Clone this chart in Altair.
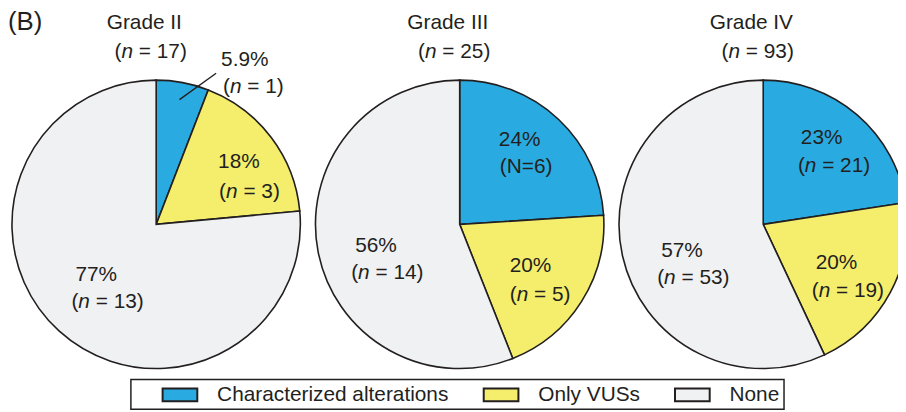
import math
import altair as alt
import pandas as pd

# ---------------- data ----------------
grades = ["Grade II", "Grade III", "Grade IV"]
grade_n = [17, 25, 93]
categories = ["Characterized alterations", "Only VUSs", "None"]
count_characterized = [1, 6, 21]
count_only_vus = [3, 5, 19]
count_none = [13, 14, 53]
pct_characterized = ["5.9%", "24%", "23%"]
pct_only_vus = ["18%", "20%", "20%"]
pct_none = ["77%", "56%", "57%"]
count_style_upper = [False, True, False]  # Grade III blue label written "(N=6)"

# ---------------- style ----------------
colors = ["#29ABE2", "#F4EE6C", "#F0F1F3"]
ink = "#231F20"
FONT = "Liberation Sans"
FS = 21
CX_RANGE = [149.5, 762]
CY = 216.5
R = 145.5
# label anchors (left end, baseline) relative to pie centre, line 1 and line 2
L1 = [[(65.5, -159.5), (62.5, -56.5), (-81.5, 57.5)],
      [(39.5, -79.5), (50.5, 48.5), (-105.5, 27.5)],
      [(38, -81.5), (53, 45.5), (-103, 32.5)]]
L2 = [[(67.5, -132.5), (63.5, -26.5), (-85.5, 84.5)],
      [(40.5, -51.5), (50.5, 77.5), (-109.5, 55.5)],
      [(35, -52.5), (49, 73.5), (-107, 60.5)]]
PAREN_W = 0.333 * FS
ITAL_N_W = 0.556 * FS
SPACE_W = 0.278 * FS

# ---------------- tables ----------------
arc_rows, lab_rows = [], []
for gi, g in enumerate(grades):
    counts = [count_characterized[gi], count_only_vus[gi], count_none[gi]]
    pcts = [pct_characterized[gi], pct_only_vus[gi], pct_none[gi]]
    tot = sum(counts)
    cum = 0
    for ci, c in enumerate(categories):
        start = cum / tot
        cum += counts[ci]
        end = cum / tot
        arc_rows.append({"grade": g, "category": c, "start": start, "end": end})
        dx1, dy1 = L1[gi][ci]
        dx2, dy2 = L2[gi][ci]
        upper = (ci == 0 and count_style_upper[gi])
        lab_rows.append({
            "grade": g,
            "t1": math.atan2(dx1, -dy1), "r1": math.hypot(dx1, dy1),
            "t2": math.atan2(dx2, -dy2), "r2": math.hypot(dx2, dy2),
            "pct": pcts[ci],
            "open": f"(N={counts[ci]})" if upper else "(",
            "ital": "" if upper else "n",
            "rest": "" if upper else f"= {counts[ci]})",
        })
arc_df = pd.DataFrame(arc_rows)
lab_df = pd.DataFrame(lab_rows)
title_df = pd.DataFrame({"grade": grades,
                         "rest": [f"= {n})" for n in grade_n]})

xscale = alt.Scale(type="point", domain=grades, range=CX_RANGE, padding=0)
X = alt.X("grade:N", scale=xscale, axis=None)

arcs = alt.Chart(arc_df).mark_arc(outerRadius=R, stroke=ink, strokeWidth=1.6).encode(
    x=X,
    y=alt.value(CY),
    theta=alt.Theta("start:Q", stack=False, scale=alt.Scale(domain=[0, 1], range=[0, 2 * math.pi])),
    theta2="end:Q",
    color=alt.Color(
        "category:N",
        scale=alt.Scale(domain=categories, range=colors),
        legend=alt.Legend(
            orient="none", legendX=124, legendY=373, direction="horizontal",
            title=" ", titleOrient="left", titlePadding=34, titleFontSize=FS,
            strokeColor=ink, padding=4,
            symbolType="M-1.667,-0.619H1.667V0.619H-1.667Z", symbolSize=441,
            symbolStrokeColor=ink, symbolStrokeWidth=2, symbolOpacity=1,
            labelFont=FONT, labelFontSize=FS, labelColor=ink, labelOffset=26,
            labelLimit=400, columnPadding=30,
            labelExpr="datum.label == 'None' ? 'None  ' : datum.label",
        ),
    ),
    order=alt.Order("start:Q"),
)

txt = dict(font=FONT, fontSize=FS, color=ink, baseline="alphabetic", align="left")
lab = alt.Chart(lab_df)
line1 = lab.mark_text(**txt).encode(
    x=X, y=alt.value(CY),
    theta=alt.Theta("t1:Q", scale=None), radius=alt.Radius("r1:Q", scale=None),
    text="pct:N")
l2_open = lab.mark_text(**txt).encode(
    x=X, y=alt.value(CY),
    theta=alt.Theta("t2:Q", scale=None), radius=alt.Radius("r2:Q", scale=None),
    text="open:N")
l2_ital = lab.mark_text(dx=PAREN_W, fontStyle="italic", **txt).encode(
    x=X, y=alt.value(CY),
    theta=alt.Theta("t2:Q", scale=None), radius=alt.Radius("r2:Q", scale=None),
    text="ital:N")
l2_rest = lab.mark_text(dx=PAREN_W + ITAL_N_W + SPACE_W, **txt).encode(
    x=X, y=alt.value(CY),
    theta=alt.Theta("t2:Q", scale=None), radius=alt.Radius("r2:Q", scale=None),
    text="rest:N")

tt = alt.Chart(title_df)
title1 = tt.mark_text(font=FONT, fontSize=FS, color=ink, baseline="alphabetic",
                      align="center", dx=-12).encode(x=X, y=alt.value(19), text="grade:N")
t2_open = tt.mark_text(dx=-42, **txt).encode(x=X, y=alt.value(49), text=alt.value("("))
t2_ital = tt.mark_text(dx=-42 + PAREN_W, fontStyle="italic", **txt).encode(
    x=X, y=alt.value(49), text=alt.value("n"))
t2_rest = tt.mark_text(dx=-42 + PAREN_W + ITAL_N_W + SPACE_W, **txt).encode(
    x=X, y=alt.value(49), text="rest:N")

panel = alt.Chart(pd.DataFrame({"t": ["(B)"]})).mark_text(
    font=FONT, fontSize=26, color=ink, baseline="alphabetic", align="left").encode(
    x=alt.value(0), y=alt.value(20), text="t:N")

# leader line for Grade II characterized slice
c0 = arc_rows[0]
mid = (c0["start"] + c0["end"]) / 2 * 2 * math.pi
x0c = CX_RANGE[0]
lx1 = x0c + 128 * math.sin(mid)
ly1 = CY - 128 * math.cos(mid)
lx2, ly2 = x0c + 60.5, CY - 152.5
leader = alt.Chart(pd.DataFrame({"k": [0]})).mark_rule(stroke=ink, strokeWidth=1.4).encode(
    x=alt.value(lx1), x2=alt.value(lx2), y=alt.value(ly1), y2=alt.value(ly2))

chart = alt.layer(
    arcs, leader, line1, l2_open, l2_ital, l2_rest,
    title1, t2_open, t2_ital, t2_rest, panel
).properties(
    width=898, height=404, padding=0,
    autosize=alt.AutoSizeParams(type="none"),
).configure_view(stroke=None).configure_legend(strokeWidth=1.5)

chart.save("out.html", embed_options={"renderer": "svg", "actions": False})
